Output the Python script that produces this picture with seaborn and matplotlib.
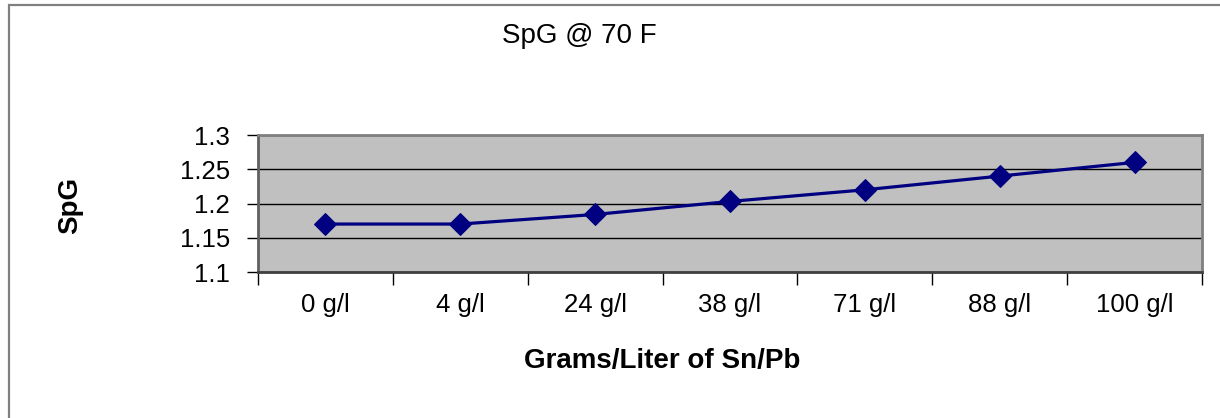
import matplotlib
matplotlib.use("Agg")
import matplotlib.pyplot as plt
import seaborn as sns
import pandas as pd
from matplotlib.patches import Rectangle
from matplotlib.ticker import FixedLocator

categories = ["0 g/l", "4 g/l", "24 g/l", "38 g/l", "71 g/l", "88 g/l", "100 g/l"]
spg_values = [1.170, 1.170, 1.184, 1.203, 1.220, 1.240, 1.260]
y_ticks = [1.1, 1.15, 1.2, 1.25, 1.3]
y_tick_labels = ["1.1", "1.15", "1.2", "1.25", "1.3"]

sns.set_theme(style="white")
plt.rcParams['font.family'] = ['Liberation Sans', 'DejaVu Sans']

W, H = 1220, 418
fig = plt.figure(figsize=(W / 100, H / 100), dpi=100)
fig.patch.set_facecolor("white")

# outer frame
fig.patches.append(Rectangle((9 / W, -0.1), 1.2, 1.1 - 5 / H, transform=fig.transFigure,
                             fill=False, edgecolor="#808080", linewidth=1.6, zorder=0))

left, right, top, bottom = 258, 1202, 135, 272
ax = fig.add_axes([left / W, 1 - bottom / H, (right - left) / W, (bottom - top) / H])
ax.set_facecolor("#C0C0C0")

df = pd.DataFrame({"cat": categories, "spg": spg_values})
sns.lineplot(data=df, x="cat", y="spg", ax=ax, sort=False, color="#000080",
             linewidth=2.3, marker="D", markersize=11.5, markeredgecolor="#000080")

ax.set_xlim(-0.5, len(categories) - 0.5)
ax.set_ylim(1.1, 1.3)
ax.set_yticks(y_ticks)
ax.set_yticklabels(y_tick_labels, fontsize=18.5, color="black")
ax.set_xticks(range(len(categories)))
ax.set_xticklabels(categories, fontsize=18.5, color="black")
ax.xaxis.set_minor_locator(FixedLocator([i - 0.5 for i in range(len(categories) + 1)]))
ax.tick_params(axis="x", which="major", length=0, pad=15)
ax.tick_params(axis="x", which="minor", length=9, width=1, color="black", direction="out", bottom=True)
ax.tick_params(axis="y", which="major", length=8, width=1, color="black", direction="out", left=True, pad=12)

ax.grid(axis="y", color="black", linewidth=1)
ax.grid(axis="x", visible=False)
for side, sp in ax.spines.items():
    sp.set_visible(True)
    sp.set_color("#808080")
    sp.set_linewidth(2)
ax.spines["left"].set_color("#606060")
ax.spines["bottom"].set_color("#404040")
ax.set_axisbelow(True)

ax.set_xlabel("")
ax.set_ylabel("")
fig.text(579 / W, 1 - 36 / H, "SpG @ 70 F", fontsize=20, ha="center", va="center", color="black")
fig.text(662 / W, 1 - 361 / H, "Grams/Liter of Sn/Pb", fontsize=20, fontweight="bold",
         ha="center", va="center", color="black")
fig.text(70 / W, 1 - 205 / H, "SpG", fontsize=20, fontweight="bold", rotation=90,
         ha="center", va="center", color="black")

fig.savefig("out.png", dpi=100, facecolor="white")
